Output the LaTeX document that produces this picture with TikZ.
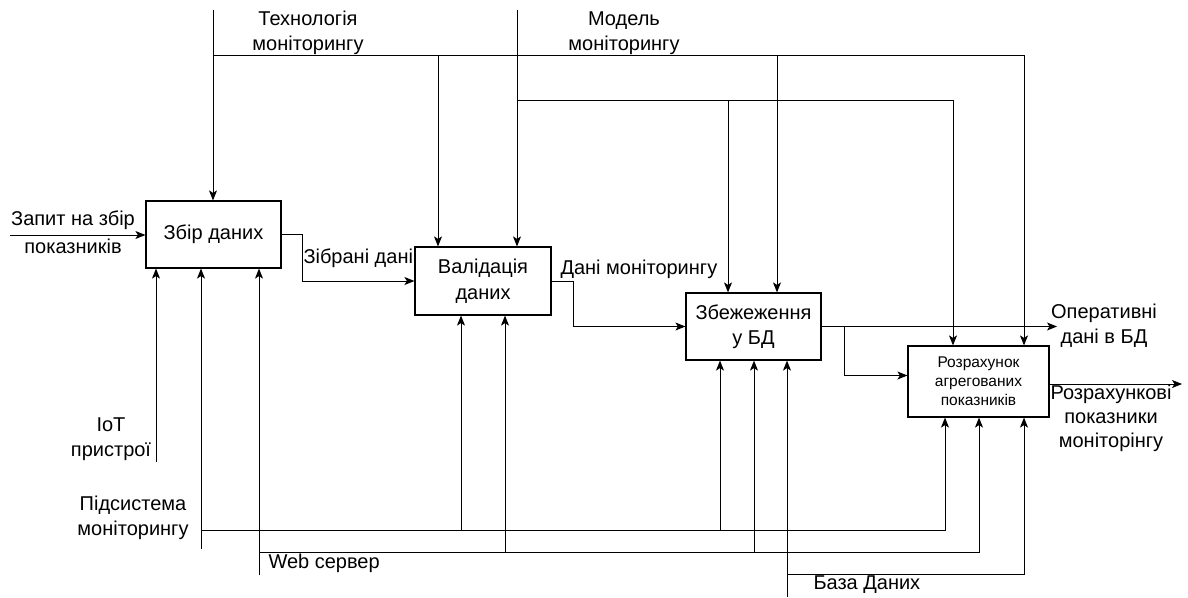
\documentclass[tikz,border=0pt]{standalone}
\usepackage{fontspec}
\setmainfont{Liberation Sans}
\usetikzlibrary{arrows.meta}

\begin{document}
\begin{tikzpicture}[x=1pt,y=-1pt,line width=1pt,
    arr/.style={-{Stealth[length=10pt,width=8pt,inset=2.5pt]}},
    func/.style={draw,line width=1.2pt,align=center,inner sep=0pt,
      font=\fontsize{20}{25.5}\selectfont},
    lbl/.style={align=center,inner sep=0pt,font=\fontsize{20}{25}\selectfont}]

    \useasboundingbox (0,0) rectangle (1188,597);

    % --- functions ---
    \node[func,minimum width=135pt,minimum height=67pt] (zbir) at (213.5,234.5) {Збір даних};
    \node[func,minimum width=136pt,minimum height=68pt] (valid) at (483,281) {Валідація\\даних};
    \node[func,minimum width=135pt,minimum height=67pt] (zber) at (753.5,326.5) {Збежеження\\у БД};
    \node[func,minimum width=141pt,minimum height=71pt,
      font=\fontsize{15.5}{19}\selectfont] (rozr) at (978.5,381.5) {Розрахунок\\агрегованих\\показників};

    % --- controls ---
    \coordinate (tech) at (213,10);
    \coordinate (techL) at (213,55);
    \coordinate (t2) at (438,55);
    \coordinate (t3) at (777,55);
    \coordinate (t4) at (1024,55);
    \draw[arr] (tech) -- (tech |- zbir.north);
    \draw[arr] (techL) -- (t4) -- (t4 |- rozr.north);
    \draw[arr] (t2) -- (t2 |- valid.north);
    \draw[arr] (t3) -- (t3 |- zber.north);
    \node[lbl] (techlbl) at (308,33) {Технологія\\моніторингу};

    \coordinate (model) at (517,10);
    \coordinate (m1) at (517,100);
    \coordinate (m2) at (728,100);
    \coordinate (m3) at (953,100);
    \draw[arr] (model) -- (model |- valid.north);
    \draw[arr] (m1) -- (m3) -- (m3 |- rozr.north);
    \draw[arr] (m2) -- (m2 |- zber.north);
    \node[lbl] (modellbl) at (624,33) {Модель\\моніторингу};

    % --- input and flows ---
    \coordinate (zapyt) at (10,235);
    \draw[arr] (zapyt) -- (zapyt -| zbir.west);
    \node[lbl,font=\fontsize{20}{28}\selectfont] (zapytlbl) at (73,232) {Запит на збір\\показників};

    \draw[arr] (zbir.east) -- ++(21,0) |- (valid.west);
    \node[lbl,anchor=west] (zibrani) at (303,258) {Зібрані дані};

    \draw[arr] (valid.east) -- ++(22,0) |- (zber.west);
    \node[lbl,anchor=west] (dani) at (560,269) {Дані моніторингу};

    % --- outputs ---
    \coordinate (oper) at (1057,326.5);
    \coordinate (b1) at (844,326.5);
    \draw[arr] (zber.east) -- (oper);
    \draw[arr] (b1) |- ([yshift=6pt]rozr.west);
    \node[lbl] (operlbl) at (1104,326) {Оперативні\\дані в БД};

    \coordinate (rozrout) at (1182,384);
    \draw[arr] (rozr.east |- rozrout) -- (rozrout);
    \node[lbl,font=\fontsize{20}{24}\selectfont] (rozrlbl) at (1111,418) {Розрахункові\\показники\\моніторінгу};

    % --- mechanisms ---
    \coordinate (iot) at (156,462);
    \draw[arr] (iot) -- (iot |- zbir.south);
    \node[lbl] (iotlbl) at (111,439) {IoT\\пристрої};

    \coordinate (pids) at (201,549);
    \coordinate (p0) at (201,530);
    \coordinate (p2) at (461,530);
    \coordinate (p3) at (720,530);
    \coordinate (p4) at (945,530);
    \draw[arr] (pids) -- (pids |- zbir.south);
    \draw[arr] (p0) -- (p4) -- (p4 |- rozr.south);
    \draw[arr] (p2) -- (p2 |- valid.south);
    \draw[arr] (p3) -- (p3 |- zber.south);
    \node[lbl] (pidslbl) at (133,518) {Підсистема\\моніторингу};

    \coordinate (web) at (259,575);
    \coordinate (w0) at (259,552);
    \coordinate (w2) at (505,552);
    \coordinate (w3) at (754,552);
    \coordinate (w4) at (979,552);
    \draw[arr] (web) -- (web |- zbir.south);
    \draw[arr] (w0) -- (w4) -- (w4 |- rozr.south);
    \draw[arr] (w2) -- (w2 |- valid.south);
    \draw[arr] (w3) -- (w3 |- zber.south);
    \node[lbl,anchor=west] (weblbl) at (268,563) {Web сервер};

    \coordinate (bd) at (787,597);
    \coordinate (d0) at (787,574);
    \coordinate (d4) at (1024,574);
    \draw[arr] (bd) -- (bd |- zber.south);
    \draw[arr] (d0) -- (d4) -- (d4 |- rozr.south);
    \node[lbl,anchor=west] (bdlbl) at (813,585) {База Даних};

\end{tikzpicture}
\end{document}
